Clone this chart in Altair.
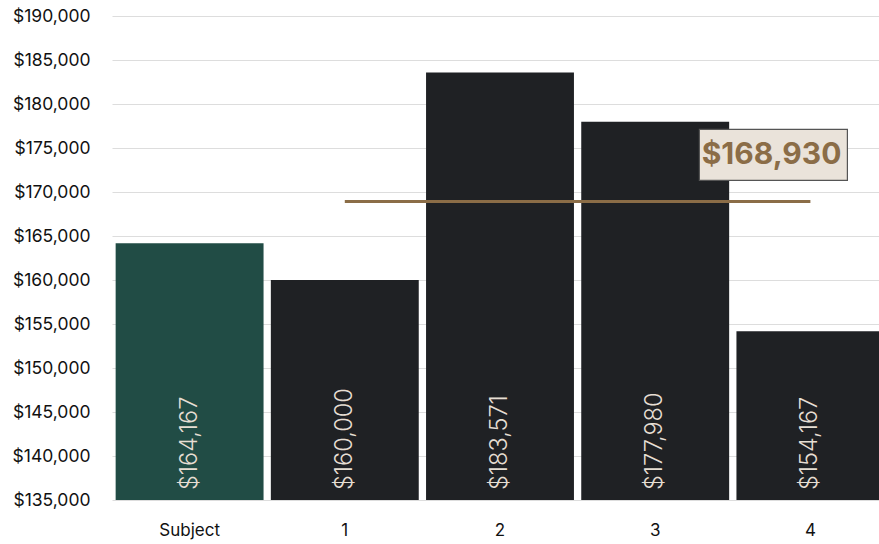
import altair as alt
import pandas as pd

categories = ["Subject", "1", "2", "3", "4"]
values = [164167, 160000, 183571, 177980, 154167]
labels = ["$164,167", "$160,000", "$183,571", "$177,980", "$154,167"]
is_subject = [True, False, False, False, False]
average = 168930
average_label = "$168,930"
y_min, y_max = 135000, 190000
y_ticks = list(range(y_min, y_max + 1, 5000))

df = pd.DataFrame({"cat": categories, "value": values, "label": labels, "subject": is_subject})
avg_df = pd.DataFrame({"start": ["1"], "end": ["4"], "value": [average], "label": [average_label]})

FONT = "Inter"
x_scale = alt.Scale(domain=categories, range=[0, 776], paddingInner=0.047, paddingOuter=0.0235)
y_scale = alt.Scale(domain=[y_min, y_max], nice=False, zero=False)

base = alt.Chart(df)

bars = base.mark_bar().encode(
    x=alt.X("cat:N", scale=x_scale, sort=categories, title=None),
    y=alt.Y("value:Q", scale=y_scale, title=None,
            axis=alt.Axis(values=y_ticks, format="$,.0f")),
    y2=alt.datum(y_min),
    color=alt.Color("subject:N", scale=alt.Scale(domain=[True, False], range=["#214C45", "#1F2124"]), legend=None),
)

bar_text = base.mark_text(angle=270, align="left", baseline="middle", fontSize=23.5, fontWeight=300,
                          font=FONT, color="#E6DED3", dx=10).encode(
    x=alt.X("cat:N", scale=x_scale, sort=categories, title=None),
    y=alt.datum(y_min),
    text="label:N",
)

avg_base = alt.Chart(avg_df)
rule = avg_base.mark_rule(color="#8B6D47", strokeWidth=3).encode(
    x=alt.X("start:N", scale=x_scale, title=None),
    x2="end:N",
    y=alt.Y("value:Q", scale=y_scale, title=None),
)

box = avg_base.mark_rect(fill="#EAE3DA", stroke="#555555", strokeWidth=1.2,
                         xOffset=-111, x2Offset=37, yOffset=-72, y2Offset=-21).encode(
    x=alt.X("end:N", scale=x_scale, bandPosition=0.5, title=None),
    x2="end:N",
    y=alt.Y("value:Q", scale=y_scale, title=None),
    y2="value:Q",
)

avg_text = avg_base.mark_text(align="right", baseline="middle", fontSize=30, fontWeight="bold",
                              font=FONT, color="#8B6D47", dx=31, dy=-46).encode(
    x=alt.X("end:N", scale=x_scale, title=None),
    y=alt.Y("value:Q", scale=y_scale, title=None),
    text="label:N",
)

chart = alt.layer(bars, bar_text, rule, box, avg_text).properties(
    width=767, height=484,
    background="white",
    autosize=alt.AutoSizeParams(type="none"),
    padding={"left": 112, "top": 16, "right": 0, "bottom": 44},
).configure_view(stroke=None).configure_axisX(
    domain=False, ticks=False, grid=False, labelAngle=0, labelPadding=22,
    labelFontSize=17, labelColor="#111111", labelFont=FONT,
).configure_axisY(
    domain=False, ticks=False, grid=True, labelPadding=22,
    labelFontSize=17.5, labelColor="#111111", labelFont=FONT,
    gridColor="#DDDDDD", gridWidth=1,
)

chart.save("out.html", embed_options={"renderer": "svg", "actions": False})
